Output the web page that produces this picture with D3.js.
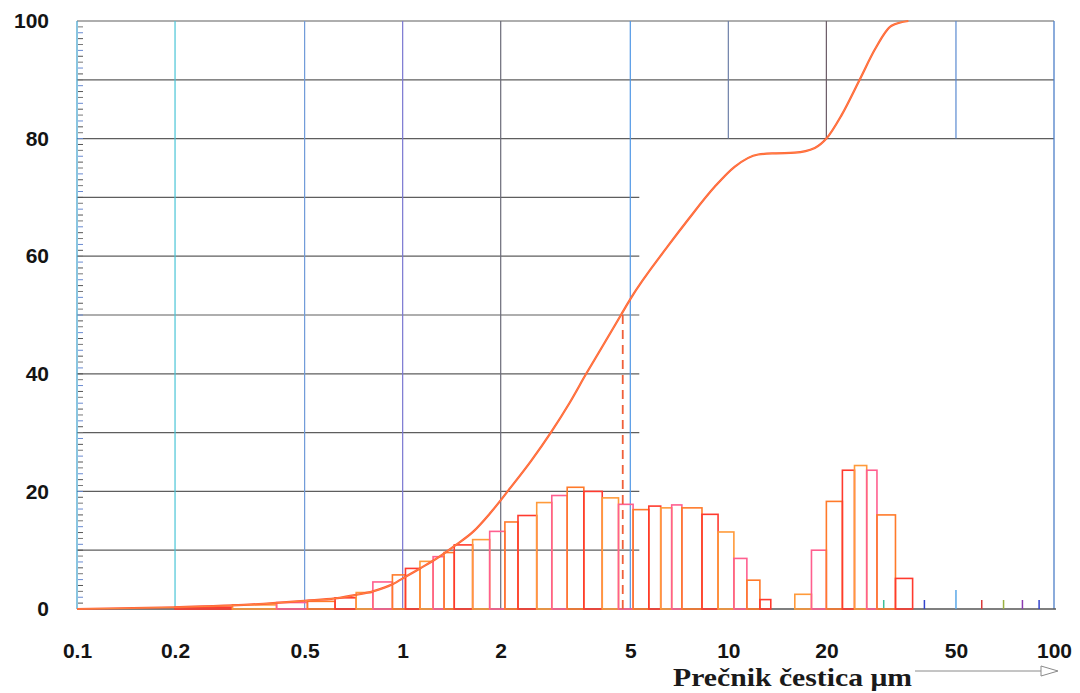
<!DOCTYPE html>
<html>
<head>
<meta charset="utf-8">
<script src="https://cdn.jsdelivr.net/npm/d3@7"></script>
<style>
  html, body { margin: 0; padding: 0; background: #fff; }
  svg { display: block; }
</style>
</head>
<body>
<svg id="chart" width="1080" height="693"></svg>
<script>
// ---------- data ----------
const xTickValues = [0.1, 0.2, 0.5, 1, 2, 5, 10, 20, 50, 100];
const xTickLabels = ["0.1", "0.2", "0.5", "1", "2", "5", "10", "20", "50", "100"];
const yTickValues = [0, 20, 40, 60, 80, 100];
const minorXTicks = [30, 40, 50, 60, 70, 80, 90];

// histogram bin edges (µm) and heights (%)
const binEdges = [0.2, 0.3, 0.41, 0.51, 0.62, 0.72, 0.81, 0.93, 1.02, 1.13, 1.24, 1.34, 1.44,
  1.64, 1.85, 2.06, 2.26, 2.58, 2.87, 3.2, 3.6, 4.1, 4.6, 5.1, 5.7, 6.2, 6.7, 7.2, 8.3, 9.3,
  10.4, 11.4, 12.5, 13.5, 16, 18, 20, 22.4, 24.4, 26.6, 28.6, 32.6, 36.8];
const binValues = [0.3, 0.7, 1.1, 1.3, 1.9, 2.8, 4.6, 5.8, 6.9, 8.1, 8.9, 9.6,
  10.9, 11.8, 13.2, 14.8, 15.9, 18.1, 19.3, 20.7, 20.0, 18.9, 17.8, 16.9, 17.5, 17.2, 17.7, 17.2,
  16.1, 13.1, 8.6, 4.9, 1.6, 0, 2.5, 10, 18.3, 23.6, 24.4, 23.6, 16, 5.2];

// cumulative curve
const cumSize = [0.1, 0.2, 0.3, 0.4, 0.5, 0.62, 0.72, 0.81, 0.93, 1.03, 1.13, 1.24, 1.44, 1.65,
  1.85, 2.12, 2.48, 2.85, 3.25, 3.66, 4.07, 4.68, 5.0, 6.52, 7.52, 9.08, 10.45, 12.35, 14.0, 16.0,
  18.43, 20.0, 22.27, 25.35, 28.2, 31.7, 35.7];
const cumPct = [0, 0.3, 0.6, 1.0, 1.4, 1.8, 2.4, 3.0, 4.2, 5.6, 6.9, 8.2, 10.7, 13.2,
  16.2, 20.3, 25.2, 30, 35, 40, 44.3, 50, 52.7, 61.7, 66.2, 71.8, 75.2, 77.3, 77.5, 77.6,
  78.4, 80, 84, 90.1, 95.2, 99.2, 100];

const d50 = 4.74;
const gridFullY = [80, 90, 100];
const gridPartY = [10, 20, 30, 40, 50, 60, 70];
const gridFullX = [0.2, 0.5, 1, 2, 5];
const gridPartX = [10, 20, 50];

// ---------- layout ----------
const svg = d3.select("#chart");
const L = 77, R = 1054, T = 21, B = 609;
const x = d3.scaleLog().domain([0.1, 100]).range([L, R]);
const y = d3.scaleLinear().domain([0, 100]).range([B, T]);

const vColors = {0.2: "#49c4d6", 0.5: "#6f9ad8", 1: "#7a76d0", 2: "#6a6a78", 5: "#4f96e6",
  10: "#6d7fa8", 20: "#6a5a66", 50: "#5a8ad0"};
const g = svg.append("g");

// horizontal grid
g.selectAll(".hfull").data(gridFullY).join("line")
  .attr("x1", L).attr("x2", R).attr("y1", d => y(d)).attr("y2", d => y(d))
  .attr("stroke", "#5e5e5e").attr("stroke-width", 1.2);
g.selectAll(".hpart").data(gridPartY).join("line")
  .attr("x1", L).attr("x2", x(5) + 9).attr("y1", d => y(d)).attr("y2", d => y(d))
  .attr("stroke", "#5e5e5e").attr("stroke-width", 1.2);

// vertical grid
g.selectAll(".vfull").data(gridFullX).join("line")
  .attr("x1", d => x(d)).attr("x2", d => x(d)).attr("y1", T).attr("y2", B)
  .attr("stroke", d => vColors[d]).attr("stroke-width", 1.2);
g.selectAll(".vpart").data(gridPartX).join("line")
  .attr("x1", d => x(d)).attr("x2", d => x(d)).attr("y1", T).attr("y2", y(80))
  .attr("stroke", d => vColors[d]).attr("stroke-width", 1.2);

// frame: left, right, bottom
g.append("line").attr("x1", L).attr("x2", L).attr("y1", T).attr("y2", B)
  .attr("stroke", "#4aa6d0").attr("stroke-width", 1.3);
g.append("line").attr("x1", R).attr("x2", R).attr("y1", T).attr("y2", B)
  .attr("stroke", "#4d7fc8").attr("stroke-width", 1.3);
g.append("line").attr("x1", L).attr("x2", R + 2).attr("y1", B).attr("y2", B)
  .attr("stroke", "#555").attr("stroke-width", 1.5);

// minor y ticks (every 1 %)
g.selectAll(".ymin").data(d3.range(1, 100)).join("line")
  .attr("x1", L + 1).attr("x2", L + 6).attr("y1", d => y(d)).attr("y2", d => y(d))
  .attr("stroke", (d, i) => ["#555", "#6a8ad0", "#777"][i % 3]).attr("stroke-width", 1);

// minor x ticks at bottom right
const mColors = ["#3bbf9a", "#3344cc", "#5aa8e8", "#d83a3a", "#9ab040", "#8a3ab0", "#3344cc"];
g.selectAll(".xmin").data(minorXTicks).join("line")
  .attr("x1", d => x(d)).attr("x2", d => x(d))
  .attr("y1", B).attr("y2", d => B - (d === 50 ? 19 : 9))
  .attr("stroke", (d, i) => mColors[i]).attr("stroke-width", 1.5);

// histogram bars
const bins = binValues.map((v, i) => ({lo: binEdges[i], hi: binEdges[i + 1], v}))
  .filter(b => b.v > 0);
const barColors = ["#ff3a2e", "#ff9a3a", "#ff5f8f", "#ff7a2a"];
g.selectAll(".bar").data(bins).join("rect")
  .attr("x", d => x(d.lo)).attr("width", d => x(d.hi) - x(d.lo))
  .attr("y", d => y(d.v)).attr("height", d => B - y(d.v))
  .attr("fill", "none")
  .attr("stroke", (d, i) => barColors[i % barColors.length])
  .attr("stroke-width", 1.6);

// d50 dashed line
g.append("line").attr("x1", x(d50)).attr("x2", x(d50)).attr("y1", y(50)).attr("y2", B)
  .attr("stroke", "#f0603a").attr("stroke-width", 1.8).attr("stroke-dasharray", "9,6");

// cumulative curve
const line = d3.line().x((d, i) => x(cumSize[i])).y(d => y(d)).curve(d3.curveMonotoneX);
g.append("path").datum(cumPct).attr("d", line)
  .attr("fill", "none").attr("stroke", "#ff5a3a").attr("stroke-width", 2.2);
g.append("path").datum(cumPct).attr("d", line)
  .attr("fill", "none").attr("stroke", "#ffa040").attr("stroke-width", 0.8).attr("opacity", 0.8);

// axes (labels)
const yAxis = d3.axisLeft(y).tickValues(yTickValues).tickSize(0).tickPadding(28)
  .tickFormat(d3.format("d"));
const yg = svg.append("g").attr("transform", `translate(${L},0)`).call(yAxis);
yg.select(".domain").remove();
yg.selectAll("text").attr("font-family", "'Liberation Sans', Arial, sans-serif")
  .attr("font-weight", "bold").attr("font-size", 21).attr("fill", "#141414");

const xAxis = d3.axisBottom(x).tickValues(xTickValues).tickSize(0).tickPadding(34)
  .tickFormat((d, i) => xTickLabels[i]);
const xg = svg.append("g").attr("transform", `translate(0,${B})`).call(xAxis);
xg.select(".domain").remove();
xg.selectAll("text").attr("font-family", "'Liberation Sans', Arial, sans-serif")
  .attr("font-weight", "bold").attr("font-size", 21).attr("fill", "#141414");

// axis title + arrow
svg.append("text").attr("x", 673).attr("y", 686)
  .attr("font-family", "'Liberation Serif', 'Times New Roman', serif")
  .attr("font-weight", "bold").attr("font-size", 26).attr("fill", "#1a1a1a")
  .attr("textLength", 239).attr("lengthAdjust", "spacingAndGlyphs")
  .text("Prečnik čestica μm");
svg.append("line").attr("x1", 915).attr("x2", 1041).attr("y1", 671).attr("y2", 671)
  .attr("stroke", "#8a8a8a").attr("stroke-width", 1);
svg.append("path").attr("d", "M1041,666 L1058,671 L1041,676 Z")
  .attr("fill", "#fff").attr("stroke", "#8a8a8a").attr("stroke-width", 1);
</script>
</body>
</html>
